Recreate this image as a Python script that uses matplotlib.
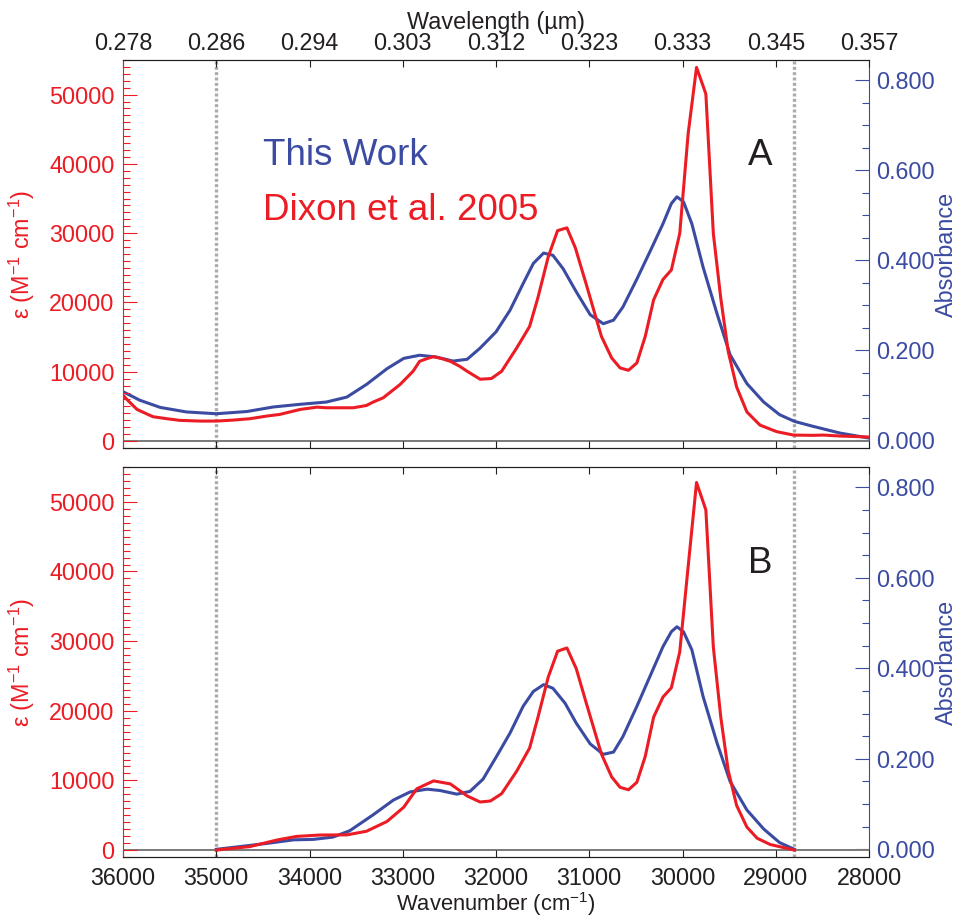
import matplotlib
matplotlib.use('Agg')
import matplotlib.pyplot as plt
from matplotlib.ticker import MultipleLocator, FormatStrFormatter

plt.rcParams['font.family'] = ['Liberation Sans', 'DejaVu Sans']
plt.rcParams['mathtext.fontset'] = 'custom'
plt.rcParams['mathtext.rm'] = 'Liberation Sans'
plt.rcParams['mathtext.default'] = 'regular'

RED = '#ec1c24'
BLUE = '#3b4ba1'
GRAY = '#ababab'
INK = '#231f20'

# x axis ticks (wavenumber, cm-1) and wavelength labels for the top axis
wn_ticks = [36000, 35000, 34000, 33000, 32000, 31000, 30000, 29000, 28000]
wl_labels = [f'{1e4 / w:.3f}' for w in wn_ticks]
cut_lines = [35000, 28800]

# Panel A - Dixon et al. 2005 (epsilon, M-1 cm-1)
wn_dixon_a = [36000, 35940, 35850, 35680, 35530, 35390, 35170, 35000, 34820, 34640,
              34460, 34320, 34100, 33920, 33820, 33530, 33390, 33320, 33210, 33030,
              32890, 32820, 32740, 32670, 32570, 32490, 32390, 32310, 32170, 32050,
              31940, 31780, 31640, 31550, 31440, 31340, 31240, 31150, 31030, 30870,
              30760, 30670, 30580, 30490, 30400, 30310, 30210, 30120, 30030, 29940,
              29850, 29750, 29670, 29590, 29510, 29420, 29310, 29170, 28990, 28810,
              28600, 28490, 28310, 28000]
eps_dixon_a = [6600, 5750, 4560, 3510, 3220, 2980, 2880, 2880, 3020, 3220,
               3600, 3840, 4560, 4890, 4800, 4800, 5130, 5610, 6240, 8150,
               10070, 11500, 11900, 12180, 11850, 11500, 10790, 10070, 8920, 9020,
               10070, 13400, 16540, 20740, 26600, 30370, 30770, 27900, 22500, 15100,
               11990, 10550, 10210, 11270, 15100, 20380, 23320, 24690, 29970, 44350,
               53930, 50100, 29970, 20600, 12900, 7800, 4200, 2300, 1350, 860,
               820, 860, 720, 580]

# Panel A - This Work (absorbance)
wn_work_a = [36000, 35820, 35600, 35320, 35000, 34670, 34390, 34100, 33820, 33600,
             33390, 33170, 32990, 32820, 32640, 32460, 32310, 32170, 32000, 31850,
             31710, 31600, 31490, 31390, 31280, 31140, 30990, 30850, 30740, 30640,
             30490, 30350, 30210, 30120, 30060, 29990, 29900, 29780, 29630, 29490,
             29310, 29130, 28960, 28800, 28600, 28310, 28000]
abs_work_a = [0.108, 0.089, 0.073, 0.063, 0.059, 0.064, 0.074, 0.080, 0.085, 0.096,
              0.124, 0.159, 0.182, 0.189, 0.185, 0.176, 0.180, 0.205, 0.241, 0.289,
              0.348, 0.393, 0.416, 0.411, 0.381, 0.330, 0.279, 0.259, 0.267, 0.296,
              0.358, 0.419, 0.481, 0.526, 0.541, 0.530, 0.481, 0.385, 0.281, 0.190,
              0.126, 0.085, 0.057, 0.042, 0.031, 0.016, 0.005]

# Panel B - Dixon et al. 2005 (epsilon), cut to 35000-28800
wn_dixon_b = [35000, 34640, 34350, 34140, 33890, 33600, 33390, 33170, 32990, 32850,
              32670, 32490, 32310, 32170, 32060, 31940, 31780, 31640, 31550, 31440,
              31340, 31240, 31140, 31030, 30870, 30760, 30670, 30580, 30490, 30400,
              30310, 30210, 30120, 30030, 29940, 29850, 29750, 29670, 29590, 29510,
              29420, 29310, 29200, 29060, 28800]
eps_dixon_b = [0, 500, 1440, 1960, 2160, 2180, 2700, 4100, 6150, 8800,
               9930, 9500, 7770, 6900, 7050, 8100, 11300, 14650, 19090, 24850,
               28550, 29020, 26060, 21000, 13800, 10500, 9010, 8660, 9730, 13450,
               19090, 21970, 23300, 28450, 40690, 52780, 48850, 29170, 19090, 11400,
               6400, 3300, 1700, 800, 0]

# Panel B - This Work (absorbance)
wn_work_b = [35000, 34750, 34460, 34170, 33960, 33750, 33570, 33320, 33100, 32920,
             32740, 32600, 32420, 32280, 32140, 31990, 31850, 31710, 31600, 31490,
             31390, 31260, 31140, 30990, 30850, 30740, 30640, 30490, 30350, 30210,
             30120, 30060, 29990, 29900, 29780, 29630, 29490, 29310, 29130, 28960,
             28800]
abs_work_b = [0.000, 0.006, 0.013, 0.021, 0.022, 0.027, 0.041, 0.076, 0.109, 0.127,
              0.133, 0.130, 0.122, 0.128, 0.155, 0.207, 0.257, 0.316, 0.349, 0.364,
              0.356, 0.323, 0.279, 0.233, 0.210, 0.215, 0.249, 0.316, 0.382, 0.448,
              0.481, 0.492, 0.481, 0.441, 0.338, 0.235, 0.150, 0.087, 0.045, 0.015,
              0.000]

FS = 16.8


def make_panel(rect, wn_d, eps_d, wn_w, abs_w, letter, top_axis):
    ax = fig.add_axes(rect)
    axr = ax.twinx()
    ax.set_zorder(axr.get_zorder() + 1)
    ax.patch.set_visible(False)

    # reference lines
    for w in cut_lines:
        axr.axvline(w, color=GRAY, lw=2.4, ls=(0, (0.9, 0.7)), zorder=1)
    ax.axhline(0, color='#7a7a7a', lw=1.4, zorder=1)

    ax.plot(wn_d, eps_d, color=RED, lw=2.2, zorder=3)
    axr.plot(wn_w, abs_w, color=BLUE, lw=2.2, zorder=2)

    ax.set_xlim(36000, 28000)
    ax.set_ylim(-1000, 55000)
    axr.set_ylim(-0.017, 0.845)

    ax.set_xticks(wn_ticks)
    ax.tick_params(axis='x', which='both', direction='in', top=True, bottom=True,
                   length=5, width=0.8, color=INK, labelcolor=INK, labelsize=FS)
    if top_axis:
        ax.set_xticklabels(wl_labels)
        ax.tick_params(axis='x', labeltop=True, labelbottom=False, pad=3.5)
        ax.xaxis.set_label_position('top')
        ax.set_xlabel('Wavelength (µm)', fontsize=FS, color=INK)
        ax.xaxis.set_label_coords(0.5, 1.081)
    else:
        ax.set_xticklabels([str(w) for w in wn_ticks])
        ax.tick_params(axis='x', labeltop=False, labelbottom=True, pad=7.5)
        ax.set_xlabel('Wavenumber (cm$^{-1}$)', fontsize=15.8, color=INK)
        ax.xaxis.set_label_coords(0.5, -0.085)

    ax.yaxis.set_major_locator(MultipleLocator(10000))
    ax.yaxis.set_minor_locator(MultipleLocator(1000))
    ax.tick_params(axis='y', which='both', direction='in', color=RED, labelcolor=RED,
                   labelsize=FS, pad=6, width=0.8)
    ax.tick_params(axis='y', which='major', length=10)
    ax.tick_params(axis='y', which='minor', length=5)
    ax.set_ylabel('ε (M$^{-1}$ cm$^{-1}$)', color=RED, fontsize=FS)
    ax.yaxis.set_label_coords(-0.115, 0.5)

    axr.yaxis.set_major_locator(MultipleLocator(0.2))
    axr.yaxis.set_minor_locator(MultipleLocator(0.05))
    axr.yaxis.set_major_formatter(FormatStrFormatter('%.3f'))
    axr.tick_params(axis='y', which='both', direction='in', color=BLUE, labelcolor=BLUE,
                    labelsize=FS, pad=5, width=0.8)
    axr.tick_params(axis='y', which='major', length=10)
    axr.tick_params(axis='y', which='minor', length=5)
    axr.set_ylabel('Absorbance', color=BLUE, fontsize=FS)
    axr.yaxis.set_label_coords(1.088, 0.5)

    for a in (ax, axr):
        for s in a.spines.values():
            s.set_linewidth(0.8)
            s.set_color(INK)
    ax.spines['right'].set_visible(False)
    axr.spines['left'].set_visible(False)
    ax.spines['left'].set_color(RED)
    axr.spines['right'].set_color(BLUE)

    ax.text(0.854, 0.729, letter, transform=ax.transAxes, ha='center',
            fontsize=26.5, color=INK)
    return ax


fig = plt.figure(figsize=(9.59, 9.17), dpi=100)
ax_a = make_panel([0.1283, 0.5115, 0.7779, 0.4231], wn_dixon_a, eps_dixon_a,
                  wn_work_a, abs_work_a, 'A', True)
ax_b = make_panel([0.1283, 0.0654, 0.7779, 0.4253], wn_dixon_b, eps_dixon_b,
                  wn_work_b, abs_work_b, 'B', False)

ax_a.text(0.1877, 0.729, 'This Work', transform=ax_a.transAxes, color=BLUE,
          fontsize=26.5)
ax_a.text(0.1877, 0.588, 'Dixon et al. 2005', transform=ax_a.transAxes, color=RED,
          fontsize=26.5)

fig.savefig('out.png', dpi=100)
